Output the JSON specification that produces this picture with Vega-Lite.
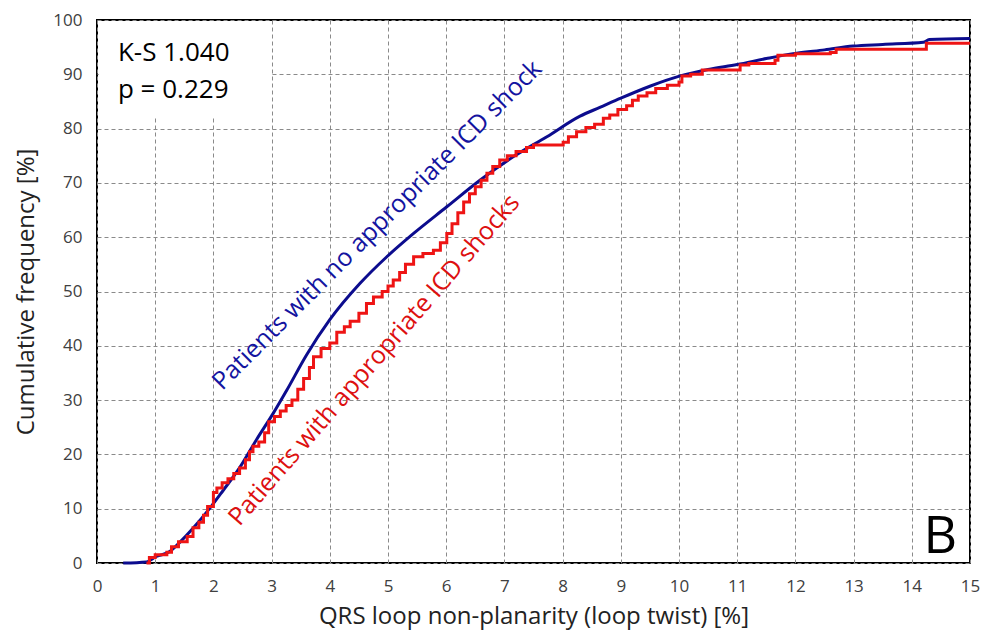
{
  "$schema": "https://vega.github.io/schema/vega-lite/v6.json",
  "width": 873,
  "height": 543,
  "autosize": {"type": "none"},
  "padding": {"left": 97, "top": 20, "right": 20, "bottom": 77},
  "background": "white",
  "config": {
    "font": "Open Sans",
    "view": {"stroke": "black", "strokeWidth": 2},
    "axis": {
      "grid": true, "gridColor": "#8a8a8a", "gridDash": [4, 3], "gridWidth": 1,
      "domain": false, "ticks": false, "labelFlush": false,
      "labelFont": "Open Sans", "labelFontSize": 17, "labelColor": "#404040",
      "titleFont": "Open Sans", "titleFontSize": 24, "titleFontWeight": "normal", "titleColor": "#222222"
    }
  },
  "datasets": {
    "curves": [
      {"x": 0.45, "y": 0, "group": "no shock"},
      {"x": 0.85, "y": 0.2, "group": "no shock"},
      {"x": 1.02, "y": 1.2, "group": "no shock"},
      {"x": 1.25, "y": 2.1, "group": "no shock"},
      {"x": 1.43, "y": 3.9, "group": "no shock"},
      {"x": 1.65, "y": 6.4, "group": "no shock"},
      {"x": 1.94, "y": 10.1, "group": "no shock"},
      {"x": 2.17, "y": 13.4, "group": "no shock"},
      {"x": 2.46, "y": 17.7, "group": "no shock"},
      {"x": 2.74, "y": 22.7, "group": "no shock"},
      {"x": 3.03, "y": 27.6, "group": "no shock"},
      {"x": 3.26, "y": 31.8, "group": "no shock"},
      {"x": 3.6, "y": 38.3, "group": "no shock"},
      {"x": 4.0, "y": 44.8, "group": "no shock"},
      {"x": 4.52, "y": 51.5, "group": "no shock"},
      {"x": 4.98, "y": 56.4, "group": "no shock"},
      {"x": 5.44, "y": 60.7, "group": "no shock"},
      {"x": 6.01, "y": 65.6, "group": "no shock"},
      {"x": 6.58, "y": 70.5, "group": "no shock"},
      {"x": 7.15, "y": 74.8, "group": "no shock"},
      {"x": 7.73, "y": 78.5, "group": "no shock"},
      {"x": 8.3, "y": 82.3, "group": "no shock"},
      {"x": 8.64, "y": 83.9, "group": "no shock"},
      {"x": 9.0, "y": 85.6, "group": "no shock"},
      {"x": 9.5, "y": 87.8, "group": "no shock"},
      {"x": 10.02, "y": 89.7, "group": "no shock"},
      {"x": 10.5, "y": 90.9, "group": "no shock"},
      {"x": 11.0, "y": 91.8, "group": "no shock"},
      {"x": 11.5, "y": 92.9, "group": "no shock"},
      {"x": 12.02, "y": 93.9, "group": "no shock"},
      {"x": 12.5, "y": 94.5, "group": "no shock"},
      {"x": 12.99, "y": 95.2, "group": "no shock"},
      {"x": 13.5, "y": 95.5, "group": "no shock"},
      {"x": 14.2, "y": 95.9, "group": "no shock"},
      {"x": 14.3, "y": 96.4, "group": "no shock"},
      {"x": 15.0, "y": 96.6, "group": "no shock"},

      {"x": 0.85, "y": 0, "group": "shock"},
      {"x": 0.9, "y": 1.0, "group": "shock"},
      {"x": 1.0, "y": 1.5, "group": "shock"},
      {"x": 1.2, "y": 2.0, "group": "shock"},
      {"x": 1.28, "y": 3.0, "group": "shock"},
      {"x": 1.4, "y": 3.9, "group": "shock"},
      {"x": 1.55, "y": 4.9, "group": "shock"},
      {"x": 1.65, "y": 6.5, "group": "shock"},
      {"x": 1.75, "y": 7.5, "group": "shock"},
      {"x": 1.83, "y": 8.8, "group": "shock"},
      {"x": 1.9, "y": 10.4, "group": "shock"},
      {"x": 2.0, "y": 13.0, "group": "shock"},
      {"x": 2.06, "y": 13.8, "group": "shock"},
      {"x": 2.15, "y": 14.8, "group": "shock"},
      {"x": 2.25, "y": 15.5, "group": "shock"},
      {"x": 2.35, "y": 16.5, "group": "shock"},
      {"x": 2.45, "y": 17.5, "group": "shock"},
      {"x": 2.55, "y": 19.0, "group": "shock"},
      {"x": 2.62, "y": 20.5, "group": "shock"},
      {"x": 2.68, "y": 21.5, "group": "shock"},
      {"x": 2.78, "y": 22.3, "group": "shock"},
      {"x": 2.88, "y": 24.0, "group": "shock"},
      {"x": 2.95, "y": 26.0, "group": "shock"},
      {"x": 3.05, "y": 27.0, "group": "shock"},
      {"x": 3.15, "y": 28.0, "group": "shock"},
      {"x": 3.25, "y": 29.0, "group": "shock"},
      {"x": 3.35, "y": 30.0, "group": "shock"},
      {"x": 3.45, "y": 32.0, "group": "shock"},
      {"x": 3.55, "y": 34.0, "group": "shock"},
      {"x": 3.65, "y": 36.0, "group": "shock"},
      {"x": 3.72, "y": 38.0, "group": "shock"},
      {"x": 3.85, "y": 39.5, "group": "shock"},
      {"x": 4.0, "y": 40.5, "group": "shock"},
      {"x": 4.12, "y": 42.5, "group": "shock"},
      {"x": 4.25, "y": 43.5, "group": "shock"},
      {"x": 4.35, "y": 44.5, "group": "shock"},
      {"x": 4.5, "y": 46.0, "group": "shock"},
      {"x": 4.63, "y": 47.8, "group": "shock"},
      {"x": 4.75, "y": 49.0, "group": "shock"},
      {"x": 4.9, "y": 50.0, "group": "shock"},
      {"x": 5.0, "y": 51.0, "group": "shock"},
      {"x": 5.09, "y": 52.1, "group": "shock"},
      {"x": 5.2, "y": 53.5, "group": "shock"},
      {"x": 5.3, "y": 55.0, "group": "shock"},
      {"x": 5.44, "y": 56.4, "group": "shock"},
      {"x": 5.6, "y": 57.0, "group": "shock"},
      {"x": 5.78, "y": 57.6, "group": "shock"},
      {"x": 5.9, "y": 59.0, "group": "shock"},
      {"x": 6.01, "y": 60.7, "group": "shock"},
      {"x": 6.1, "y": 62.5, "group": "shock"},
      {"x": 6.2, "y": 64.5, "group": "shock"},
      {"x": 6.3, "y": 66.5, "group": "shock"},
      {"x": 6.4, "y": 68.0, "group": "shock"},
      {"x": 6.5, "y": 69.3, "group": "shock"},
      {"x": 6.6, "y": 70.5, "group": "shock"},
      {"x": 6.7, "y": 71.8, "group": "shock"},
      {"x": 6.8, "y": 73.0, "group": "shock"},
      {"x": 6.92, "y": 74.2, "group": "shock"},
      {"x": 7.05, "y": 75.0, "group": "shock"},
      {"x": 7.2, "y": 75.8, "group": "shock"},
      {"x": 7.38, "y": 76.5, "group": "shock"},
      {"x": 7.5, "y": 77.0, "group": "shock"},
      {"x": 8.01, "y": 77.5, "group": "shock"},
      {"x": 8.1, "y": 78.5, "group": "shock"},
      {"x": 8.24, "y": 79.4, "group": "shock"},
      {"x": 8.4, "y": 80.2, "group": "shock"},
      {"x": 8.55, "y": 80.8, "group": "shock"},
      {"x": 8.7, "y": 81.9, "group": "shock"},
      {"x": 8.81, "y": 82.5, "group": "shock"},
      {"x": 8.95, "y": 83.5, "group": "shock"},
      {"x": 9.1, "y": 84.2, "group": "shock"},
      {"x": 9.2, "y": 85.2, "group": "shock"},
      {"x": 9.3, "y": 86.0, "group": "shock"},
      {"x": 9.45, "y": 86.6, "group": "shock"},
      {"x": 9.6, "y": 87.4, "group": "shock"},
      {"x": 9.8, "y": 88.0, "group": "shock"},
      {"x": 10.0, "y": 88.6, "group": "shock"},
      {"x": 10.05, "y": 89.7, "group": "shock"},
      {"x": 10.2, "y": 90.0, "group": "shock"},
      {"x": 10.4, "y": 90.8, "group": "shock"},
      {"x": 11.05, "y": 91.7, "group": "shock"},
      {"x": 11.2, "y": 92.0, "group": "shock"},
      {"x": 11.65, "y": 92.6, "group": "shock"},
      {"x": 11.7, "y": 93.5, "group": "shock"},
      {"x": 12.0, "y": 93.8, "group": "shock"},
      {"x": 12.6, "y": 94.0, "group": "shock"},
      {"x": 12.7, "y": 94.6, "group": "shock"},
      {"x": 14.25, "y": 95.7, "group": "shock"},
      {"x": 15.0, "y": 95.7, "group": "shock"}
    ],
    "stats": [
      {"x": 0.36, "y": 92.5, "text": "K-S 1.040"},
      {"x": 0.36, "y": 85.6, "text": "p = 0.229"}
    ],
    "box": [{"x": 0.03, "x2": 2.99, "y": 82, "y2": 99.8}],
    "blueLabel": [{"x": 4.81, "y": 62.2, "text": "Patients with no appropriate ICD shock"}],
    "redLabel": [{"x": 4.76, "y": 37.4, "text": "Patients with appropriate ICD shocks"}],
    "panel": [{"x": 14.2, "y": 1.8, "text": "B"}]
  },
  "layer": [
    {
      "data": {"name": "box"},
      "mark": {"type": "rect", "fill": "white", "stroke": null},
      "encoding": {
        "x": {"field": "x", "type": "quantitative", "scale": {"domain": [0, 15], "nice": false},
              "axis": {"values": [0,1,2,3,4,5,6,7,8,9,10,11,12,13,14,15], "format": "d", "title": "QRS loop non-planarity (loop twist) [%]", "labelPadding": 15, "titlePadding": 10}},
        "x2": {"field": "x2"},
        "y": {"field": "y", "type": "quantitative", "scale": {"domain": [0, 100], "nice": false},
              "axis": {"values": [0,10,20,30,40,50,60,70,80,90,100], "format": "d", "title": "Cumulative frequency [%]", "labelPadding": 15, "titlePadding": 14}},
        "y2": {"field": "y2"}
      }
    },
    {
      "data": {"name": "curves"},
      "transform": [{"filter": "datum.group === 'no shock'"}],
      "mark": {"type": "line", "color": "#0c0c8e", "strokeWidth": 3, "interpolate": "monotone"},
      "encoding": {
        "x": {"field": "x", "type": "quantitative"},
        "y": {"field": "y", "type": "quantitative"}
      }
    },
    {
      "data": {"name": "curves"},
      "transform": [{"filter": "datum.group === 'shock'"}],
      "mark": {"type": "line", "color": "#ee1414", "strokeWidth": 3, "interpolate": "step-after"},
      "encoding": {
        "x": {"field": "x", "type": "quantitative"},
        "y": {"field": "y", "type": "quantitative"}
      }
    },
    {
      "data": {"name": "stats"},
      "mark": {"type": "text", "align": "left", "baseline": "alphabetic", "fontSize": 26, "color": "black", "font": "Open Sans"},
      "encoding": {
        "x": {"field": "x", "type": "quantitative"},
        "y": {"field": "y", "type": "quantitative"},
        "text": {"field": "text"}
      }
    },
    {
      "data": {"name": "blueLabel"},
      "mark": {"type": "text", "align": "center", "baseline": "middle", "fontSize": 25, "angle": -45, "color": "#1414a0", "font": "Open Sans"},
      "encoding": {
        "x": {"field": "x", "type": "quantitative"},
        "y": {"field": "y", "type": "quantitative"},
        "text": {"field": "text"}
      }
    },
    {
      "data": {"name": "redLabel"},
      "mark": {"type": "text", "align": "center", "baseline": "middle", "fontSize": 25, "angle": -49, "color": "#dd1010", "font": "Open Sans"},
      "encoding": {
        "x": {"field": "x", "type": "quantitative"},
        "y": {"field": "y", "type": "quantitative"},
        "text": {"field": "text"}
      }
    },
    {
      "data": {"name": "panel"},
      "mark": {"type": "text", "align": "left", "baseline": "alphabetic", "fontSize": 52, "color": "black", "font": "Open Sans"},
      "encoding": {
        "x": {"field": "x", "type": "quantitative"},
        "y": {"field": "y", "type": "quantitative"},
        "text": {"field": "text"}
      }
    }
  ]
}
